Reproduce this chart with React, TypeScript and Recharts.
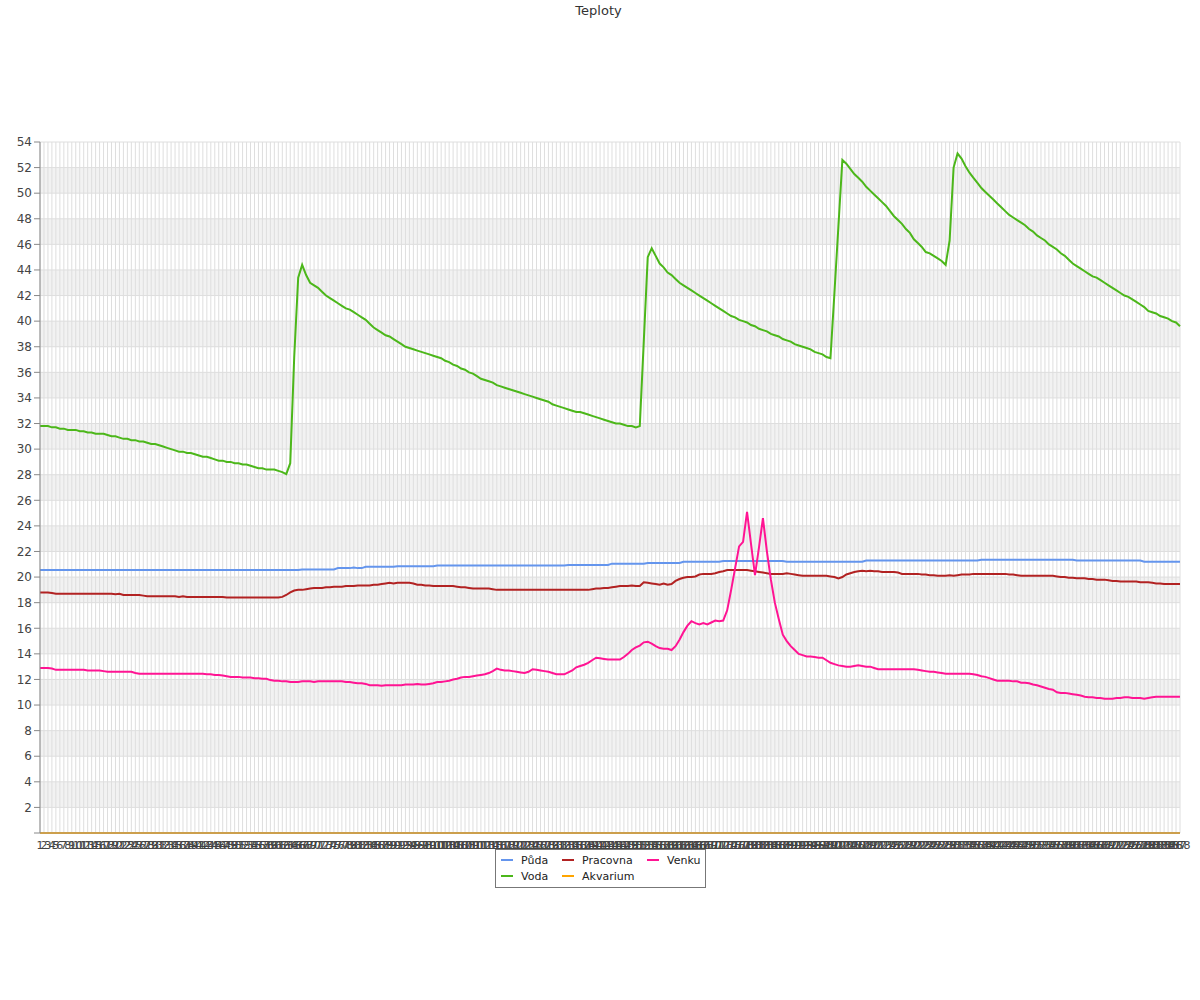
import * as React from 'react';
import { LineChart, Line, XAxis, YAxis, CartesianGrid } from 'recharts';

// Teploty: 288 readings per sensor

const puda = [
  20.55, 20.55, 20.55, 20.55, 20.55, 20.55, 20.55, 20.55, 20.55, 20.55, 20.55, 20.55,
  20.55, 20.55, 20.55, 20.55, 20.55, 20.55, 20.55, 20.55, 20.55, 20.55, 20.55, 20.55,
  20.55, 20.55, 20.55, 20.55, 20.55, 20.55, 20.55, 20.55, 20.55, 20.55, 20.55, 20.55,
  20.55, 20.55, 20.55, 20.55, 20.55, 20.55, 20.55, 20.55, 20.55, 20.55, 20.55, 20.55,
  20.55, 20.55, 20.55, 20.55, 20.55, 20.55, 20.55, 20.55, 20.55, 20.55, 20.55, 20.55,
  20.55, 20.55, 20.55, 20.55, 20.55, 20.55, 20.6, 20.6, 20.6, 20.6, 20.6, 20.6,
  20.6, 20.6, 20.6, 20.7, 20.7, 20.7, 20.7, 20.75, 20.7, 20.7, 20.8, 20.8,
  20.8, 20.8, 20.8, 20.8, 20.8, 20.8, 20.85, 20.85, 20.85, 20.85, 20.85, 20.85,
  20.85, 20.85, 20.85, 20.85, 20.9, 20.9, 20.9, 20.9, 20.9, 20.9, 20.9, 20.9,
  20.9, 20.9, 20.9, 20.9, 20.9, 20.9, 20.9, 20.9, 20.9, 20.9, 20.9, 20.9,
  20.9, 20.9, 20.9, 20.9, 20.9, 20.9, 20.9, 20.9, 20.9, 20.9, 20.9, 20.9,
  20.9, 20.95, 20.95, 20.95, 20.95, 20.95, 20.95, 20.95, 20.95, 20.95, 20.95, 20.95,
  21.05, 21.05, 21.05, 21.05, 21.05, 21.05, 21.05, 21.05, 21.05, 21.1, 21.1, 21.1,
  21.1, 21.1, 21.1, 21.1, 21.1, 21.1, 21.2, 21.2, 21.2, 21.2, 21.2, 21.2,
  21.2, 21.2, 21.2, 21.2, 21.25, 21.25, 21.25, 21.25, 21.25, 21.25, 21.25, 21.25,
  21.25, 21.25, 21.25, 21.25, 21.25, 21.25, 21.25, 21.25, 21.2, 21.2, 21.2, 21.2,
  21.2, 21.2, 21.2, 21.2, 21.2, 21.2, 21.2, 21.2, 21.2, 21.2, 21.2, 21.2,
  21.2, 21.2, 21.2, 21.2, 21.3, 21.3, 21.3, 21.3, 21.3, 21.3, 21.3, 21.3,
  21.3, 21.3, 21.3, 21.3, 21.3, 21.3, 21.3, 21.3, 21.3, 21.3, 21.3, 21.3,
  21.3, 21.3, 21.3, 21.3, 21.3, 21.3, 21.3, 21.3, 21.3, 21.35, 21.35, 21.35,
  21.35, 21.35, 21.35, 21.35, 21.35, 21.35, 21.35, 21.35, 21.35, 21.35, 21.35, 21.35,
  21.35, 21.35, 21.35, 21.35, 21.35, 21.35, 21.35, 21.35, 21.35, 21.3, 21.3, 21.3,
  21.3, 21.3, 21.3, 21.3, 21.3, 21.3, 21.3, 21.3, 21.3, 21.3, 21.3, 21.3,
  21.3, 21.3, 21.2, 21.2, 21.2, 21.2, 21.2, 21.2, 21.2, 21.2, 21.2, 21.2,
];

const voda = [
  31.8, 31.8, 31.8, 31.7, 31.7, 31.6, 31.6, 31.5, 31.5, 31.5, 31.4, 31.4,
  31.3, 31.3, 31.2, 31.2, 31.2, 31.1, 31.0, 31.0, 30.9, 30.8, 30.8, 30.7,
  30.7, 30.6, 30.6, 30.5, 30.4, 30.4, 30.3, 30.2, 30.1, 30.0, 29.9, 29.8,
  29.8, 29.7, 29.7, 29.6, 29.5, 29.4, 29.4, 29.3, 29.2, 29.1, 29.1, 29.0,
  29.0, 28.9, 28.9, 28.8, 28.8, 28.7, 28.6, 28.5, 28.5, 28.4, 28.4, 28.4,
  28.3, 28.2, 28.05, 28.9, 37.2, 43.4, 44.4, 43.6, 43.0, 42.8, 42.6, 42.3,
  42.0, 41.8, 41.6, 41.4, 41.2, 41.0, 40.9, 40.7, 40.5, 40.3, 40.1, 39.8,
  39.5, 39.3, 39.1, 38.9, 38.8, 38.6, 38.4, 38.2, 38.0, 37.9, 37.8, 37.7,
  37.6, 37.5, 37.4, 37.3, 37.2, 37.1, 36.9, 36.8, 36.6, 36.5, 36.3, 36.2,
  36.0, 35.9, 35.7, 35.5, 35.4, 35.3, 35.2, 35.0, 34.9, 34.8, 34.7, 34.6,
  34.5, 34.4, 34.3, 34.2, 34.1, 34.0, 33.9, 33.8, 33.7, 33.5, 33.4, 33.3,
  33.2, 33.1, 33.0, 32.9, 32.9, 32.8, 32.7, 32.6, 32.5, 32.4, 32.3, 32.2,
  32.1, 32.0, 32.0, 31.9, 31.8, 31.8, 31.7, 31.8, 38.4, 45.0, 45.7, 45.1,
  44.5, 44.2, 43.8, 43.6, 43.3, 43.0, 42.8, 42.6, 42.4, 42.2, 42.0, 41.8,
  41.6, 41.4, 41.2, 41.0, 40.8, 40.6, 40.4, 40.3, 40.1, 40.0, 39.9, 39.7,
  39.6, 39.4, 39.3, 39.2, 39.0, 38.9, 38.8, 38.6, 38.5, 38.4, 38.2, 38.1,
  38.0, 37.9, 37.8, 37.6, 37.5, 37.4, 37.2, 37.1, 42.2, 47.4, 52.6, 52.3,
  51.9, 51.5, 51.2, 50.9, 50.5, 50.2, 49.9, 49.6, 49.3, 49.0, 48.6, 48.2,
  47.9, 47.6, 47.2, 46.9, 46.4, 46.1, 45.8, 45.4, 45.3, 45.1, 44.9, 44.7,
  44.4, 46.3, 52.0, 53.1, 52.7, 52.1, 51.6, 51.2, 50.8, 50.4, 50.1, 49.8,
  49.5, 49.2, 48.9, 48.6, 48.3, 48.1, 47.9, 47.7, 47.5, 47.2, 47.0, 46.7,
  46.5, 46.3, 46.0, 45.8, 45.6, 45.3, 45.1, 44.8, 44.5, 44.3, 44.1, 43.9,
  43.7, 43.5, 43.4, 43.2, 43.0, 42.8, 42.6, 42.4, 42.2, 42.0, 41.9, 41.7,
  41.5, 41.3, 41.1, 40.8, 40.7, 40.6, 40.4, 40.3, 40.2, 40.0, 39.9, 39.6,
];

const pracovna = [
  18.8, 18.8, 18.8, 18.75, 18.7, 18.7, 18.7, 18.7, 18.7, 18.7, 18.7, 18.7,
  18.7, 18.7, 18.7, 18.7, 18.7, 18.7, 18.7, 18.65, 18.7, 18.6, 18.6, 18.6,
  18.6, 18.6, 18.55, 18.5, 18.5, 18.5, 18.5, 18.5, 18.5, 18.5, 18.5, 18.45,
  18.5, 18.45, 18.45, 18.45, 18.45, 18.45, 18.45, 18.45, 18.45, 18.45, 18.45, 18.4,
  18.4, 18.4, 18.4, 18.4, 18.4, 18.4, 18.4, 18.4, 18.4, 18.4, 18.4, 18.4,
  18.4, 18.45, 18.6, 18.8, 18.95, 19.0, 19.0, 19.05, 19.1, 19.15, 19.15, 19.15,
  19.2, 19.2, 19.25, 19.25, 19.25, 19.3, 19.3, 19.3, 19.35, 19.35, 19.35, 19.35,
  19.4, 19.4, 19.45, 19.5, 19.55, 19.5, 19.55, 19.55, 19.55, 19.55, 19.5, 19.4,
  19.4, 19.35, 19.35, 19.3, 19.3, 19.3, 19.3, 19.3, 19.3, 19.25, 19.2, 19.2,
  19.15, 19.1, 19.1, 19.1, 19.1, 19.1, 19.05, 19.0, 19.0, 19.0, 19.0, 19.0,
  19.0, 19.0, 19.0, 19.0, 19.0, 19.0, 19.0, 19.0, 19.0, 19.0, 19.0, 19.0,
  19.0, 19.0, 19.0, 19.0, 19.0, 19.0, 19.0, 19.05, 19.1, 19.1, 19.15, 19.15,
  19.2, 19.25, 19.3, 19.3, 19.3, 19.35, 19.3, 19.3, 19.6, 19.55, 19.5, 19.45,
  19.4, 19.5, 19.4, 19.45, 19.7, 19.85, 19.95, 20.0, 20.0, 20.05, 20.2, 20.25,
  20.25, 20.25, 20.3, 20.4, 20.45, 20.55, 20.55, 20.55, 20.55, 20.55, 20.55, 20.5,
  20.45, 20.4, 20.35, 20.3, 20.25, 20.25, 20.25, 20.25, 20.3, 20.25, 20.2, 20.15,
  20.1, 20.1, 20.1, 20.1, 20.1, 20.1, 20.1, 20.05, 20.0, 19.9, 20.0, 20.2,
  20.3, 20.4, 20.45, 20.5, 20.45, 20.5, 20.45, 20.45, 20.4, 20.4, 20.4, 20.4,
  20.35, 20.25, 20.25, 20.25, 20.25, 20.25, 20.2, 20.2, 20.15, 20.15, 20.1, 20.1,
  20.1, 20.15, 20.1, 20.15, 20.2, 20.2, 20.2, 20.25, 20.25, 20.25, 20.25, 20.25,
  20.25, 20.25, 20.25, 20.25, 20.2, 20.2, 20.15, 20.1, 20.1, 20.1, 20.1, 20.1,
  20.1, 20.1, 20.1, 20.1, 20.05, 20.0, 20.0, 19.95, 19.95, 19.9, 19.9, 19.9,
  19.85, 19.85, 19.8, 19.8, 19.8, 19.75, 19.7, 19.7, 19.65, 19.65, 19.65, 19.65,
  19.65, 19.6, 19.6, 19.6, 19.55, 19.5, 19.5, 19.45, 19.45, 19.45, 19.45, 19.45,
];

const akvarium = [
  0, 0, 0, 0, 0, 0, 0, 0, 0, 0, 0, 0, 0, 0, 0, 0, 0, 0, 0, 0, 0, 0, 0, 0,
  0, 0, 0, 0, 0, 0, 0, 0, 0, 0, 0, 0, 0, 0, 0, 0, 0, 0, 0, 0, 0, 0, 0, 0,
  0, 0, 0, 0, 0, 0, 0, 0, 0, 0, 0, 0, 0, 0, 0, 0, 0, 0, 0, 0, 0, 0, 0, 0,
  0, 0, 0, 0, 0, 0, 0, 0, 0, 0, 0, 0, 0, 0, 0, 0, 0, 0, 0, 0, 0, 0, 0, 0,
  0, 0, 0, 0, 0, 0, 0, 0, 0, 0, 0, 0, 0, 0, 0, 0, 0, 0, 0, 0, 0, 0, 0, 0,
  0, 0, 0, 0, 0, 0, 0, 0, 0, 0, 0, 0, 0, 0, 0, 0, 0, 0, 0, 0, 0, 0, 0, 0,
  0, 0, 0, 0, 0, 0, 0, 0, 0, 0, 0, 0, 0, 0, 0, 0, 0, 0, 0, 0, 0, 0, 0, 0,
  0, 0, 0, 0, 0, 0, 0, 0, 0, 0, 0, 0, 0, 0, 0, 0, 0, 0, 0, 0, 0, 0, 0, 0,
  0, 0, 0, 0, 0, 0, 0, 0, 0, 0, 0, 0, 0, 0, 0, 0, 0, 0, 0, 0, 0, 0, 0, 0,
  0, 0, 0, 0, 0, 0, 0, 0, 0, 0, 0, 0, 0, 0, 0, 0, 0, 0, 0, 0, 0, 0, 0, 0,
  0, 0, 0, 0, 0, 0, 0, 0, 0, 0, 0, 0, 0, 0, 0, 0, 0, 0, 0, 0, 0, 0, 0, 0,
  0, 0, 0, 0, 0, 0, 0, 0, 0, 0, 0, 0, 0, 0, 0, 0, 0, 0, 0, 0, 0, 0, 0, 0,
];

const venku = [
  12.9, 12.9, 12.9, 12.85, 12.75, 12.75, 12.75, 12.75, 12.75, 12.75, 12.75, 12.75,
  12.7, 12.7, 12.7, 12.7, 12.65, 12.6, 12.6, 12.6, 12.6, 12.6, 12.6, 12.6,
  12.5, 12.45, 12.45, 12.45, 12.45, 12.45, 12.45, 12.45, 12.45, 12.45, 12.45, 12.45,
  12.45, 12.45, 12.45, 12.45, 12.45, 12.45, 12.4, 12.4, 12.35, 12.35, 12.3, 12.25,
  12.2, 12.2, 12.2, 12.15, 12.15, 12.15, 12.1, 12.1, 12.05, 12.05, 11.95, 11.9,
  11.9, 11.85, 11.85, 11.8, 11.8, 11.8, 11.85, 11.85, 11.85, 11.8, 11.85, 11.85,
  11.85, 11.85, 11.85, 11.85, 11.85, 11.8, 11.8, 11.75, 11.7, 11.7, 11.65, 11.55,
  11.55, 11.55, 11.5, 11.55, 11.55, 11.55, 11.55, 11.55, 11.6, 11.6, 11.6, 11.65,
  11.6, 11.6, 11.65, 11.7, 11.8, 11.8, 11.85, 11.9, 12.0, 12.05, 12.15, 12.2,
  12.2, 12.25, 12.3, 12.35, 12.4, 12.5, 12.65, 12.85, 12.75, 12.7, 12.7, 12.65,
  12.6, 12.55, 12.5, 12.6, 12.8, 12.75, 12.7, 12.65, 12.6, 12.5, 12.4, 12.4,
  12.4, 12.55, 12.7, 12.95, 13.05, 13.15, 13.3, 13.5, 13.7, 13.65, 13.6, 13.55,
  13.55, 13.55, 13.55, 13.75, 14.0, 14.3, 14.5, 14.65, 14.9, 14.95, 14.8, 14.6,
  14.45, 14.4, 14.4, 14.3, 14.6, 15.1, 15.7, 16.2, 16.55, 16.4, 16.3, 16.4,
  16.3, 16.45, 16.6, 16.55, 16.6, 17.4, 19.0, 20.7, 22.4, 22.75, 25.1, 22.6,
  20.15, 22.3, 24.6, 22.0, 19.8, 18.0, 16.7, 15.5, 15.0, 14.6, 14.3, 14.0,
  13.9, 13.8, 13.8, 13.75, 13.7, 13.7, 13.5, 13.3, 13.2, 13.1, 13.05, 13.0,
  13.0, 13.05, 13.1, 13.05, 13.0, 13.0, 12.9, 12.8, 12.8, 12.8, 12.8, 12.8,
  12.8, 12.8, 12.8, 12.8, 12.8, 12.75, 12.7, 12.65, 12.6, 12.6, 12.55, 12.5,
  12.45, 12.45, 12.45, 12.45, 12.45, 12.45, 12.45, 12.4, 12.35, 12.25, 12.2, 12.1,
  12.0, 11.9, 11.9, 11.9, 11.9, 11.85, 11.85, 11.75, 11.75, 11.7, 11.6, 11.55,
  11.45, 11.35, 11.25, 11.2, 11.0, 10.95, 10.95, 10.9, 10.85, 10.8, 10.75, 10.65,
  10.6, 10.6, 10.55, 10.55, 10.5, 10.5, 10.5, 10.55, 10.55, 10.6, 10.6, 10.55,
  10.55, 10.55, 10.5, 10.55, 10.6, 10.65, 10.65, 10.65, 10.65, 10.65, 10.65, 10.65,
];

const yTicks = [0, 2, 4, 6, 8, 10, 12, 14, 16, 18, 20, 22, 24, 26, 28, 30, 32, 34, 36, 38, 40, 42, 44, 46, 48, 50, 52, 54];
const yMinorTicks = [1, 3, 5, 7, 9, 11, 13, 15, 17, 19, 21, 23, 25, 27, 29, 31, 33, 35, 37, 39, 41, 43, 45, 47, 49, 51, 53];

const series = [
  { key: 'puda', name: 'Půda', color: '#6495ed', values: puda },
  { key: 'voda', name: 'Voda', color: '#4cb71a', values: voda },
  { key: 'pracovna', name: 'Pracovna', color: '#b22222', values: pracovna },
  { key: 'akvarium', name: 'Akvarium', color: '#ffa500', values: akvarium },
  { key: 'venku', name: 'Venku', color: '#ff1493', values: venku },
];

const data = voda.map((_, i) => {
  const row: Record<string, string | number> = { name: String(i + 1) };
  series.forEach(s => { row[s.key] = s.values[i]; });
  return row;
});

const FONT = '"DejaVu Sans", sans-serif';

// legend is laid out column-wise like the original: Půda/Voda, Pracovna/Akvarium, Venku
const legendOrder = ['puda', 'pracovna', 'venku', 'voda', 'akvarium'];

const ChartLegend = () => (
  <div style={{
    position: 'absolute', left: 495, top: 849, width: 204, height: 35,
    border: '1px solid #777', background: '#fff', fontFamily: FONT, fontSize: 11, color: '#222',
    display: 'grid', gridTemplateColumns: '61px 85px 58px', gridAutoRows: '16px',
    padding: '2px 0 0 5px', boxSizing: 'content-box',
  }}>
    {legendOrder.map(k => {
      const s = series.find(x => x.key === k)!;
      return (
        <div key={k} style={{ display: 'flex', alignItems: 'center' }}>
          <span style={{ display: 'inline-block', width: 12, height: 2, background: s.color, marginRight: 8 }} />
          <span>{s.name}</span>
        </div>
      );
    })}
  </div>
);

export default function App() {
  return (
    <div style={{ position: 'absolute', left: 0, top: 0, width: 1200, height: 1000, background: '#fff' }}>
      <div style={{ position: 'absolute', left: 0, top: 3, width: 1197, textAlign: 'center', fontFamily: FONT, fontSize: 13, color: '#333' }}>
        Teploty
      </div>
      <LineChart width={1200} height={1000} data={data} margin={{ top: 142, right: 20, left: 0, bottom: 137 }}>
        <CartesianGrid stroke="#dedede" horizontalFill={['#ffffff', '#f2f2f2']} />
        <XAxis
          dataKey="name"
          interval={0}
          tickLine={false}
          axisLine={{ stroke: '#999' }}
          tick={{ fontSize: 11, fill: '#444', fontFamily: FONT }}
          height={30}
        />
        <YAxis
          type="number"
          domain={[0, 54]}
          ticks={yTicks}
          interval={0}
          width={40}
          tickSize={6}
          tickMargin={2}
          axisLine={{ stroke: '#888' }}
          tickLine={{ stroke: '#888' }}
          tickFormatter={(v: number) => (v === 0 ? '' : String(v))}
          tick={{ fontSize: 12, fill: '#444', fontFamily: FONT }}
        />
        <YAxis
          yAxisId="minor"
          type="number"
          domain={[0, 54]}
          ticks={yMinorTicks}
          interval={0}
          width={0}
          tickSize={3}
          axisLine={false}
          tickLine={{ stroke: '#888' }}
          tickFormatter={() => ''}
        />
        {series.map(s => (
          <Line
            key={s.key}
            type="linear"
            dataKey={s.key}
            name={s.name}
            stroke={s.color}
            strokeWidth={2}
            dot={false}
            activeDot={false}
            isAnimationActive={false}
          />
        ))}
      </LineChart>
      <ChartLegend />
    </div>
  );
}
